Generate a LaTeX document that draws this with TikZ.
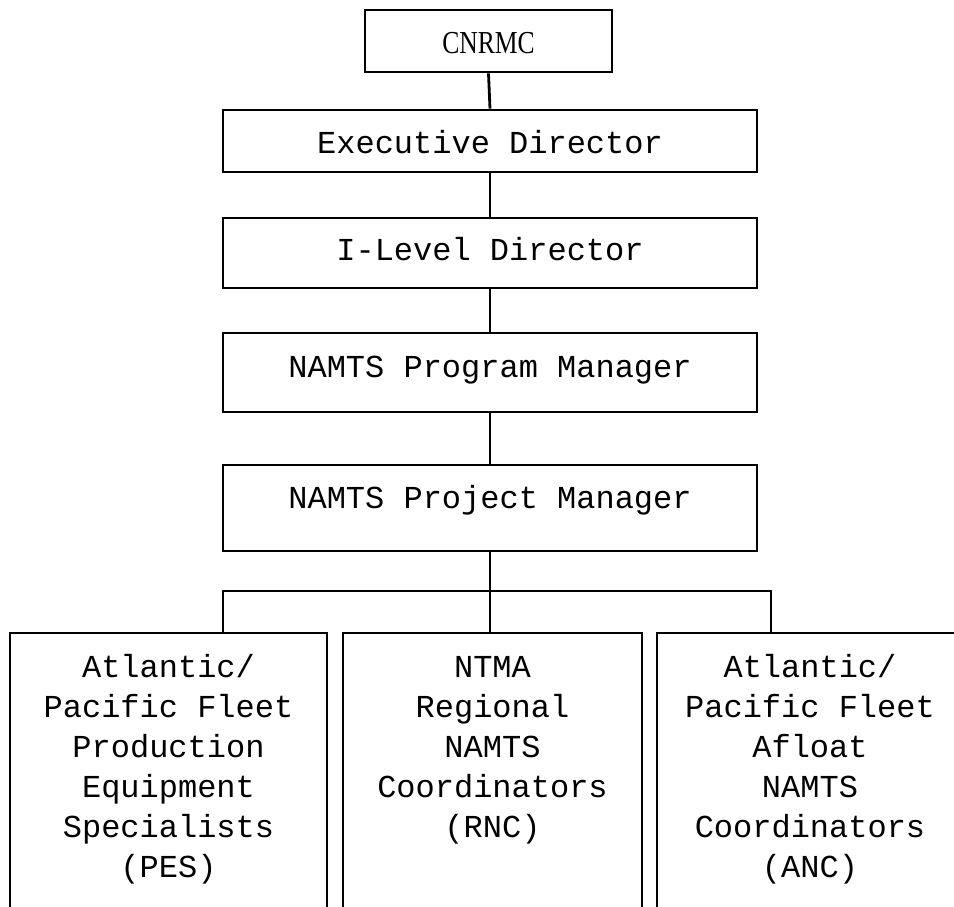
\documentclass[tikz,border=0pt]{standalone}
\usepackage{fontspec}
\setmainfont{Liberation Serif}
\setmonofont{Liberation Mono}
\begin{document}
\begin{tikzpicture}[x=1pt,y=-1pt,
  box/.style={draw,line width=2.8pt,rectangle,inner sep=0pt},
  lbl/.style={font=\ttfamily\fontsize{32}{40}\selectfont, inner sep=0pt, anchor=base},
  mlbl/.style={font=\ttfamily\fontsize{32}{40}\selectfont, inner sep=0pt, anchor=base, align=center},
  con/.style={line width=2.8pt}]
\useasboundingbox (0,0) rectangle (954,906);
\clip (0,0) rectangle (954,906);
% boxes
\node[box, minimum width=247, minimum height=62] (cnrmc) at (488.5,41) {};
\node[box, minimum width=534, minimum height=62] (exec) at (490,141) {};
\node[box, minimum width=534, minimum height=70] (ilevel) at (490,253) {};
\node[box, minimum width=534, minimum height=79] (prog) at (490,372.5) {};
\node[box, minimum width=534, minimum height=86] (proj) at (490,508) {};
\node[box, minimum width=317, minimum height=307] (pes) at (168.5,786.5) {};
\node[box, minimum width=299, minimum height=307] (rnc) at (492.5,786.5) {};
\node[box, minimum width=306, minimum height=307] (anc) at (810,786.5) {};
% texts
\node[inner sep=0pt, anchor=base, font=\fontsize{32}{40}\selectfont] (tcnrmc) at (488.5,53) {\scalebox{0.8}[1]{CNRMC}};
\node[lbl] (texec) at (490,153) {Executive Director};
\node[lbl] (tilevel) at (490,260) {I-Level Director};
\node[lbl] (tprog) at (490,377) {NAMTS Program Manager};
\node[lbl] (tproj) at (490,508) {NAMTS Project Manager};
\node[mlbl] (tpes) at (168.5,877) {Atlantic/\\Pacific Fleet\\Production\\Equipment\\Specialists\\(PES)};
\node[mlbl] (trnc) at (492.5,837) {NTMA\\Regional\\NAMTS\\Coordinators\\(RNC)};
\node[mlbl] (tanc) at (810,877) {Atlantic/\\Pacific Fleet\\Afloat\\NAMTS\\Coordinators\\(ANC)};
% connectors
\coordinate (bl) at (223,591);
\coordinate (br) at (771,591);
\draw[con] (cnrmc.south) -- (exec.north);
\draw[con] (exec.south) -- (ilevel.north);
\draw[con] (ilevel.south) -- (prog.north);
\draw[con] (prog.south) -- (proj.north);
\draw[con] (proj.south) -- (rnc.north -| proj.south);
\draw[con] (pes.north -| bl) -- (bl) -- (br) -- (anc.north -| br);
\end{tikzpicture}
\end{document}
